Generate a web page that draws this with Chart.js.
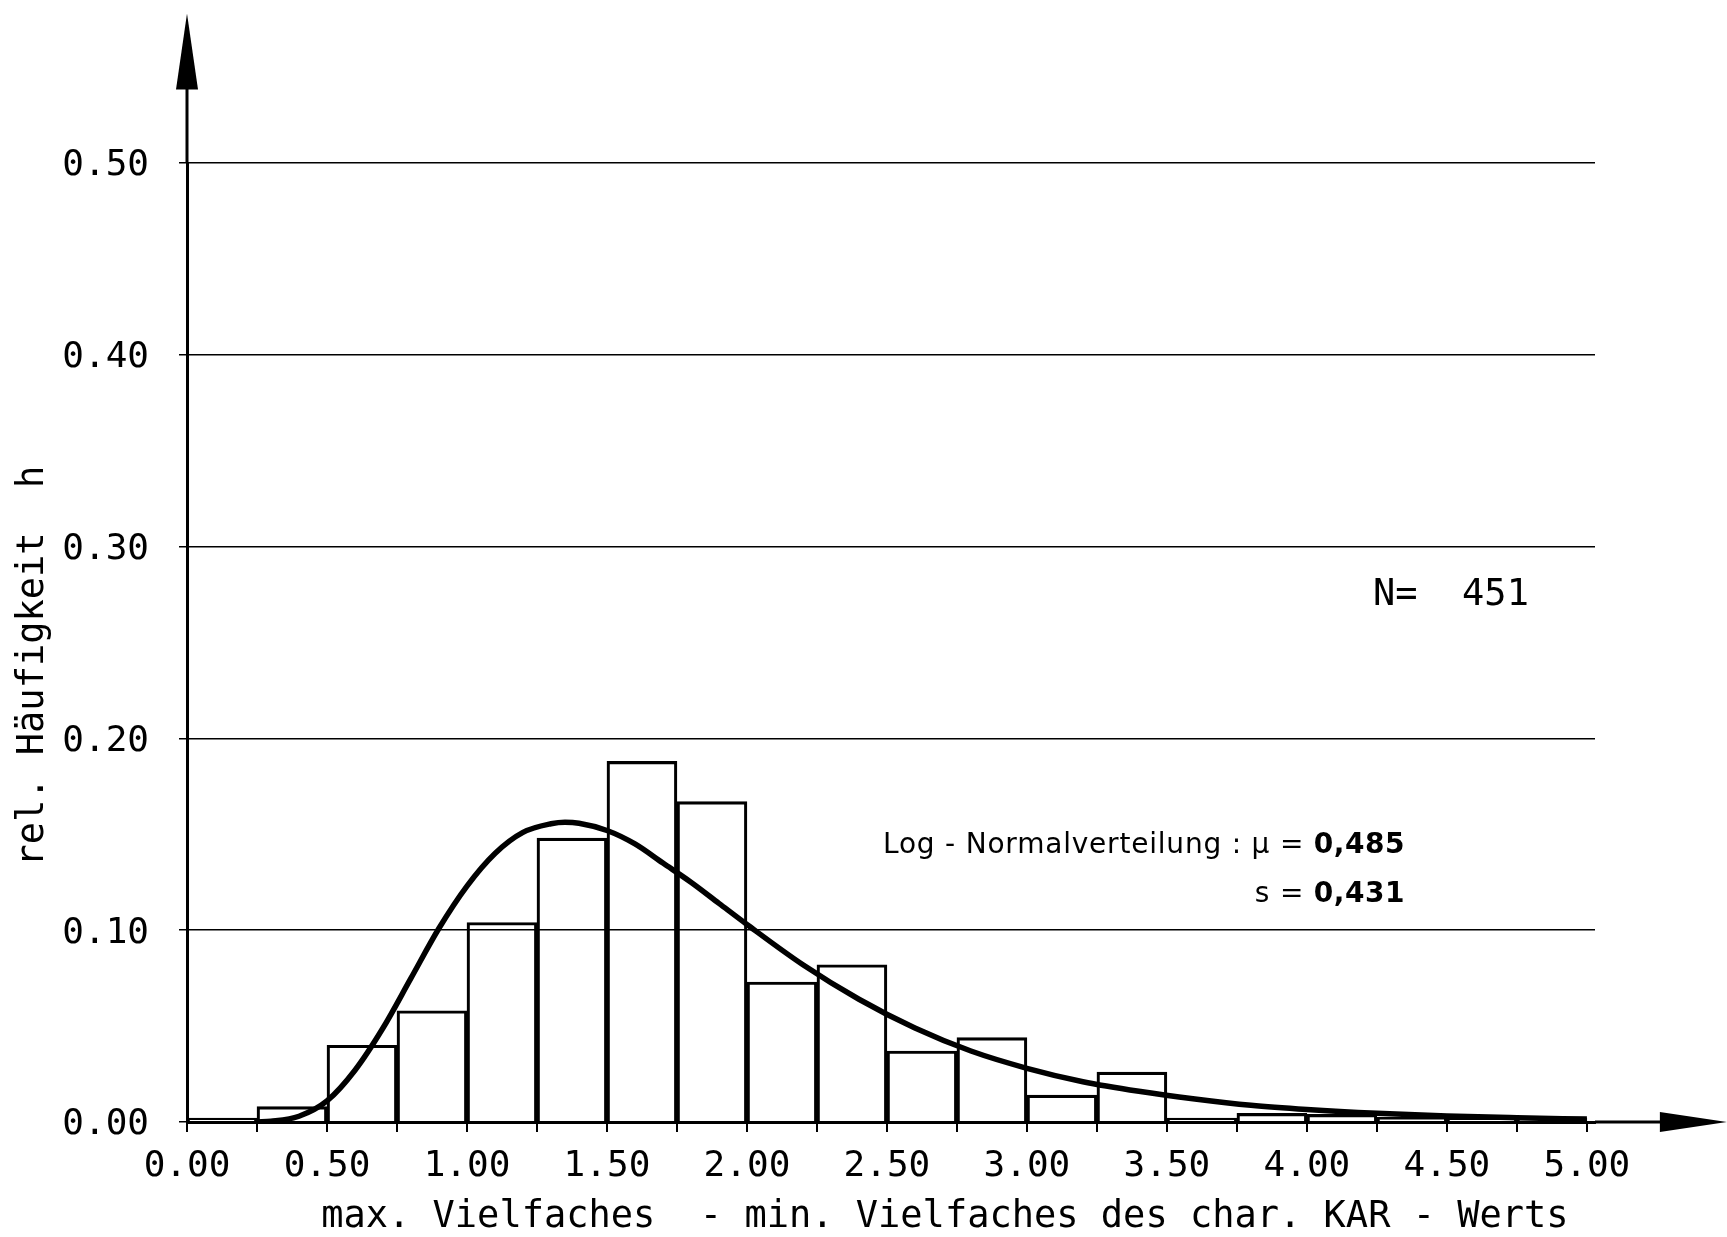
<!DOCTYPE html>
<html lang="de">
<head>
<meta charset="utf-8">
<title>rel. Häufigkeit – KAR-Werte</title>
<script src="https://cdn.jsdelivr.net/npm/chart.js@4.4.1/dist/chart.umd.min.js"></script>
<style>
  html, body { margin: 0; padding: 0; background: #fff; }
  #chart { display: block; }
</style>
</head>
<body>
<canvas id="chart" width="1727" height="1237"></canvas>
<script>
// Klassen (Untergrenze), Breite jeweils 0,25
const klassenStart = [0.00, 0.25, 0.50, 0.75, 1.00, 1.25, 1.50, 1.75, 2.00, 2.25,
                      2.50, 2.75, 3.00, 3.25, 3.50, 3.75, 4.00, 4.25, 4.50, 4.75];
const klassenBreite = 0.25;

// relative Häufigkeit h je Klasse
const relHaeufigkeit = [0.002, 0.008, 0.040, 0.058, 0.104, 0.148, 0.188, 0.167, 0.073, 0.082,
                        0.037, 0.044, 0.014, 0.026, 0.002, 0.0045, 0.004, 0.0025, 0.002, 0.002];

// Log-Normalverteilung (auf Klassenbreite skaliert)
const kurveX = [0.25, 0.30, 0.40, 0.50, 0.60, 0.70, 0.80, 0.90, 1.00, 1.10, 1.20, 1.30, 1.35, 1.40,
                1.50, 1.60, 1.70, 1.80, 1.90, 2.00, 2.20, 2.40, 2.60, 2.80, 3.00, 3.20, 3.40,
                3.60, 3.80, 4.00, 4.25, 4.50, 4.75, 5.00];
const kurveY = [0.000, 0.0004, 0.003, 0.011, 0.027, 0.049, 0.075, 0.101, 0.123, 0.140, 0.151, 0.1555, 0.1563, 0.1558,
                0.152, 0.145, 0.135, 0.125, 0.114, 0.103, 0.082, 0.064, 0.049, 0.037, 0.028, 0.021, 0.016,
                0.012, 0.0087, 0.0065, 0.0045, 0.0031, 0.0022, 0.0015];

// Achsenteilung
const xTicks = [0.00, 0.25, 0.50, 0.75, 1.00, 1.25, 1.50, 1.75, 2.00, 2.25, 2.50,
                2.75, 3.00, 3.25, 3.50, 3.75, 4.00, 4.25, 4.50, 4.75, 5.00];
const yTicks = [0.00, 0.10, 0.20, 0.30, 0.40, 0.50];

// Beschriftungen
const xTitel = 'max. Vielfaches  - min. Vielfaches des char. KAR - Werts';
const yTitel = 'rel. Häufigkeit  h';
const stichprobe = 451;
const verteilungMu = '0,485';
const verteilungS = '0,431';

const plotterSchrift = '"DejaVu Sans Mono", "Liberation Mono", monospace';
const textSchrift = '"DejaVu Sans", "Noto Sans", sans-serif';

// Achsenpfeile und Verlängerung der Achsen über den Plotbereich hinaus
const achsenPfeile = {
  id: 'achsenPfeile',
  afterDraw(chart) {
    const { ctx, chartArea, scales: { x, y } } = chart;
    const x0 = x.getPixelForValue(0);
    const y0 = y.getPixelForValue(0);
    const ySpitze = y.getPixelForValue(0.578);
    const xSpitze = x.getPixelForValue(5.5);

    ctx.save();
    ctx.strokeStyle = '#000';
    ctx.fillStyle = '#000';
    ctx.lineWidth = 3;
    ctx.beginPath();
    ctx.moveTo(x0, chartArea.top);
    ctx.lineTo(x0, ySpitze + 70);
    ctx.moveTo(chartArea.right, y0);
    ctx.lineTo(xSpitze - 60, y0);
    ctx.stroke();

    // y-Pfeil
    ctx.beginPath();
    ctx.moveTo(x0, ySpitze);
    ctx.lineTo(x0 - 11, ySpitze + 76);
    ctx.lineTo(x0 + 11, ySpitze + 76);
    ctx.closePath();
    ctx.fill();

    // x-Pfeil
    ctx.beginPath();
    ctx.moveTo(xSpitze, y0);
    ctx.lineTo(xSpitze - 67, y0 - 10);
    ctx.lineTo(xSpitze - 67, y0 + 10);
    ctx.closePath();
    ctx.fill();
    ctx.restore();
  }
};

// Breite einer Zeile aus Teilen mit wechselnder Schrift
function teileBreite(ctx, teile, abstand) {
  let breite = 0;
  teile.forEach(t => {
    ctx.font = t.font;
    ctx.letterSpacing = (t.fest ? 0.5 : abstand) + 'px';
    breite += ctx.measureText(t.text).width;
  });
  return breite;
}

function teileZeichnen(ctx, teile, abstand, xLinks, yMitte) {
  let xPos = xLinks;
  teile.forEach(t => {
    ctx.font = t.font;
    ctx.letterSpacing = (t.fest ? 0.5 : abstand) + 'px';
    ctx.fillText(t.text, xPos, yMitte);
    xPos += ctx.measureText(t.text).width;
  });
}

// Achsentitel, Stichprobenumfang und Verteilungsparameter
const beschriftung = {
  id: 'beschriftung',
  afterDraw(chart) {
    const { ctx, chartArea, scales: { x, y } } = chart;
    ctx.save();
    ctx.fillStyle = '#000';
    ctx.textBaseline = 'middle';

    // x-Titel
    ctx.font = '37px ' + plotterSchrift;
    ctx.textAlign = 'center';
    ctx.fillText(xTitel, x.getPixelForValue(2.707), chartArea.bottom + 95);

    // N
    ctx.font = '37px ' + plotterSchrift;
    ctx.textAlign = 'left';
    ctx.fillText('N=  ' + stichprobe, x.getPixelForValue(4.236), y.getPixelForValue(0.2746));

    // Log-Normalverteilung: μ und s, Sperrung so, dass die Zeile von 2,486 bis 4,35 reicht
    const zeile1 = [
      { text: 'Log - Normalverteilung : μ = ', font: '28px ' + textSchrift },
      { text: verteilungMu, font: 'bold 28px ' + textSchrift, fest: true }
    ];
    const zeile2 = [
      { text: 's = ', font: '28px ' + textSchrift },
      { text: verteilungS, font: 'bold 28px ' + textSchrift, fest: true }
    ];
    const xStart = x.getPixelForValue(2.486);
    const xEnde = x.getPixelForValue(4.35);
    const zeichen = zeile1[0].text.length;
    const abstand = Math.max(0, (xEnde - xStart - teileBreite(ctx, zeile1, 0)) / zeichen);
    teileZeichnen(ctx, zeile1, abstand, xStart, y.getPixelForValue(0.1439));
    teileZeichnen(ctx, zeile2, abstand, xEnde - teileBreite(ctx, zeile2, abstand), y.getPixelForValue(0.1184));
    ctx.letterSpacing = '0px';

    // y-Titel (gedreht)
    ctx.font = '37px ' + plotterSchrift;
    ctx.textAlign = 'center';
    ctx.translate(33, y.getPixelForValue(0.2377));
    ctx.rotate(-Math.PI / 2);
    ctx.fillText(yTitel, 0, 0);
    ctx.restore();
  }
};

function histogrammZeichnen() {
  const balken = klassenStart.map((start, i) => ({ x: start + klassenBreite / 2, y: relHaeufigkeit[i] }));
  const kurve = kurveX.map((xw, i) => ({ x: xw, y: kurveY[i] }));

  Chart.defaults.font.family = plotterSchrift;
  Chart.defaults.color = '#000';

  const ctx = document.getElementById('chart').getContext('2d');
  return new Chart(ctx, {
    type: 'bar',
    data: {
      datasets: [
        {
          type: 'line',
          label: 'Log-Normalverteilung',
          data: kurve,
          borderColor: '#000',
          borderWidth: 5.5,
          pointRadius: 0,
          fill: false,
          cubicInterpolationMode: 'monotone',
          order: 0
        },
        {
          type: 'bar',
          label: 'rel. Häufigkeit',
          data: balken,
          backgroundColor: 'rgba(0,0,0,0)',
          borderColor: '#000',
          borderWidth: 2.5,
          borderSkipped: 'start',
          barPercentage: 1,
          categoryPercentage: 1,
          order: 1
        }
      ]
    },
    options: {
      responsive: false,
      animation: false,
      layout: { padding: { left: 0, right: 132, top: 163, bottom: 0 } },
      plugins: {
        legend: { display: false },
        tooltip: { enabled: false }
      },
      scales: {
        x: {
          type: 'linear',
          min: 0,
          max: 5.029,
          offset: false,
          afterBuildTicks: scale => { scale.ticks = xTicks.map(v => ({ value: v })); },
          afterFit: scale => { scale.height = 115; },
          grid: {
            offset: false,
            drawOnChartArea: false,
            drawTicks: true,
            tickLength: 10,
            color: '#000',
            lineWidth: 2
          },
          border: { display: true, color: '#000', width: 3 },
          ticks: {
            autoSkip: false,
            maxRotation: 0,
            padding: 13,
            color: '#000',
            font: { size: 36 },
            callback: v => (Math.abs(v * 2 - Math.round(v * 2)) < 1e-9 ? v.toFixed(2) : '')
          }
        },
        y: {
          min: 0,
          max: 0.5,
          afterBuildTicks: scale => { scale.ticks = yTicks.map(v => ({ value: v })); },
          afterFit: scale => { scale.width = 187; },
          grid: { color: '#000', lineWidth: 1.5, tickLength: 8 },
          border: { display: true, color: '#000', width: 3 },
          ticks: {
            padding: 30,
            labelOffset: 3,
            color: '#000',
            font: { size: 36 },
            callback: v => v.toFixed(2)
          }
        }
      }
    },
    plugins: [achsenPfeile, beschriftung]
  });
}

document.addEventListener('DOMContentLoaded', function() {
  histogrammZeichnen();
});
</script>
</body>
</html>
